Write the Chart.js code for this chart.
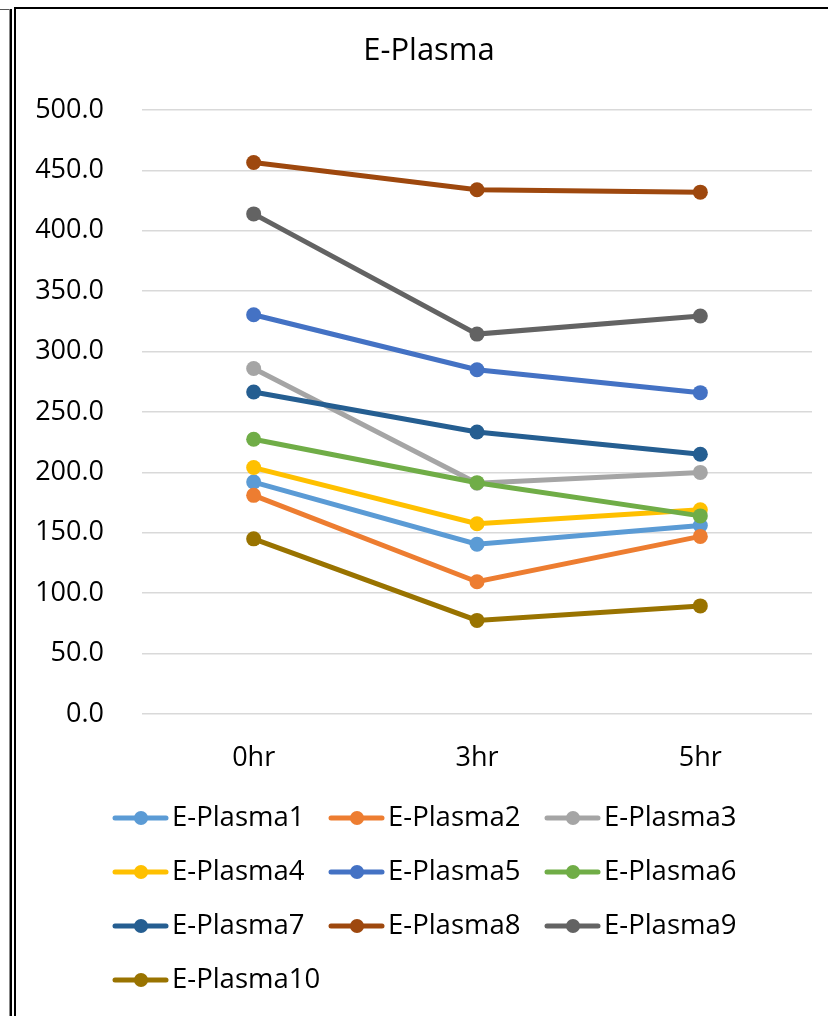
<!DOCTYPE html>
<html>
<head>
<meta charset="utf-8">
<script src="https://cdn.jsdelivr.net/npm/chart.js@4/dist/chart.umd.min.js"></script>
<style>
html,body{margin:0;padding:0;background:#fff;}
#wrap{position:relative;width:828px;height:1016px;overflow:hidden;background:#fff;}
canvas{position:absolute;left:0;top:0;}
.ln{position:absolute;}
</style>
</head>
<body>
<div id="wrap">
<canvas id="c" width="828" height="1016"></canvas>
<div class="ln" style="left:0;top:9px;width:11px;height:1px;background:#555"></div>
<div class="ln" style="left:9px;top:9px;width:1px;height:1007px;background:#888"></div>
<div class="ln" style="left:10px;top:9px;width:2px;height:1007px;background:#000"></div>
<div class="ln" style="left:14px;top:7px;width:2px;height:1009px;background:#000"></div>
<div class="ln" style="left:14px;top:7px;width:814px;height:2px;background:#000"></div>
</div>
<script>
const categories = ['0hr', '3hr', '5hr'];
const seriesNames = ['E-Plasma1','E-Plasma2','E-Plasma3','E-Plasma4','E-Plasma5','E-Plasma6','E-Plasma7','E-Plasma8','E-Plasma9','E-Plasma10'];
const e1 = [192, 140.5, 156];
const e2 = [181, 109.5, 147];
const e3 = [286, 191, 200];
const e4 = [204, 157.5, 169];
const e5 = [330.5, 285, 266];
const e6 = [227.5, 191.5, 164];
const e7 = [266.5, 233.5, 215];
const e8 = [456.5, 434, 432];
const e9 = [414, 314.5, 329.5];
const e10 = [145, 77.5, 89.5];
const seriesValues = [e1,e2,e3,e4,e5,e6,e7,e8,e9,e10];
const colors = ['#5B9BD5','#ED7D31','#A5A5A5','#FFC000','#4472C4','#70AD47','#255E91','#9E480E','#636363','#997300'];
const yTicks = [0,50,100,150,200,250,300,350,400,450,500];
const titleText = 'E-Plasma';
const FONT = "'Open Sans', sans-serif";

const datasets = seriesNames.map((n,i)=>({
  label:n,
  data:seriesValues[i],
  borderColor:colors[i],
  backgroundColor:colors[i],
  pointBackgroundColor:colors[i],
  pointBorderColor:colors[i],
  pointRadius:7.5,
  pointBorderWidth:0,
  pointHoverRadius:7.5,
  borderWidth:5,
  tension:0,
  fill:false,
  order:seriesNames.length - i
}));

const extras = {
  id:'extras',
  afterDraw(chart){
    const ctx = chart.ctx;
    ctx.save();
    ctx.fillStyle = '#000';
    ctx.font = "31px " + FONT;
    ctx.textAlign = 'center';
    ctx.textBaseline = 'middle';
    ctx.fillText(titleText, 429, 51);
    ctx.font = "27.5px " + FONT;
    ctx.textAlign = 'left';
    chart.data.datasets.forEach((ds,i)=>{
      const col = i % 3, row = Math.floor(i/3);
      const x0 = 113 + col*216, y = 818 + row*54;
      ctx.strokeStyle = ds.borderColor;
      ctx.lineWidth = 5;
      ctx.lineCap = 'round';
      ctx.beginPath(); ctx.moveTo(x0+2,y); ctx.lineTo(x0+53,y); ctx.stroke();
      ctx.fillStyle = ds.borderColor;
      ctx.beginPath(); ctx.arc(x0+28,y,7,0,Math.PI*2); ctx.fill();
      ctx.fillStyle = '#000';
      ctx.fillText(ds.label, x0+59, y);
    });
    ctx.restore();
  }
};

new Chart(document.getElementById('c'), {
  type:'line',
  data:{labels:categories, datasets},
  plugins:[extras],
  options:{
    responsive:false,
    animation:false,
    devicePixelRatio:1,
    layout:{padding:{left:0,top:110,right:16,bottom:0}},
    plugins:{legend:{display:false},title:{display:false},tooltip:{enabled:false}},
    scales:{
      x:{
        offset:true,
        grid:{display:false,drawTicks:false},
        border:{display:false},
        ticks:{color:'#000',font:{family:FONT,size:27},padding:28,maxRotation:0},
        afterFit(s){ s.height = 302; }
      },
      y:{
        min:0,max:500,
        afterBuildTicks(s){ s.ticks = yTicks.map(v=>({value:v})); },
        grid:{color:'#d9d9d9',lineWidth:1.5,drawTicks:false},
        border:{display:false},
        ticks:{color:'#000',font:{family:FONT,size:27},padding:38,callback:v=>Number(v).toFixed(1)},
        afterFit(s){ s.width = 142; }
      }
    }
  }
});
</script>
</body>
</html>
